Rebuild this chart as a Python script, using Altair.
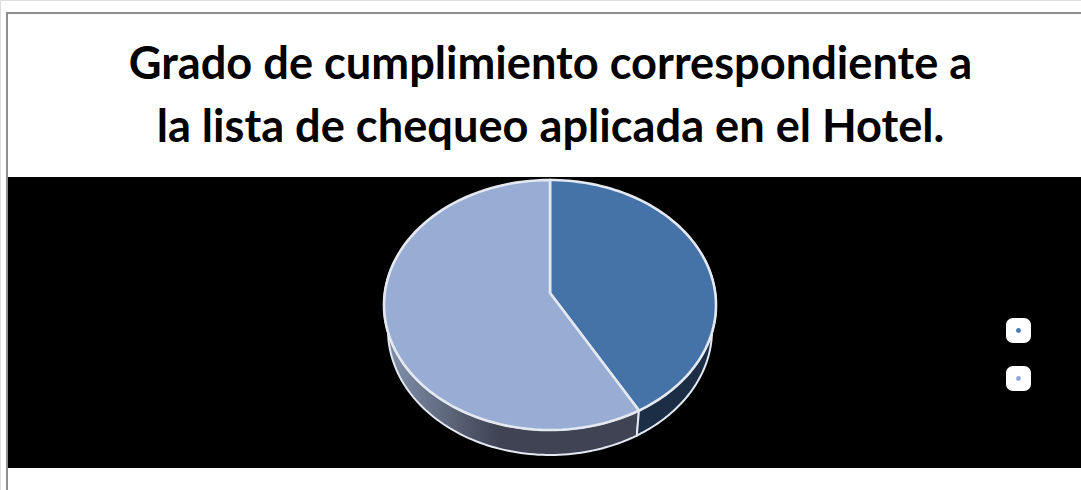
import math
import altair as alt
import pandas as pd

W, H = 1081, 490

# Chart values
slice_values = [41, 59]
top_colors = ["#4572a7", "#98acd4"]
side_dark = "#1b2e45"
legend_colors = ["#4a7ab5", "#8fa8d8"]
title_lines = ["Grado de cumplimiento correspondiente a",
               "la lista de chequeo aplicada en el Hotel."]

# Ellipse geometry of the tilted disc, in pixels
CX, CY, RX, RY = 550, 305, 166, 125
APEX_Y = 0.096          # apex sits above the ellipse centre
BASE_DROP = 0.2         # depth of the extruded edge
BASE_RX = 0.976         # base ellipse is slightly narrower

x_scale = alt.Scale(domain=[-CX / RX, (W - CX) / RX], nice=False, zero=False)
y_scale = alt.Scale(domain=[(CY - H) / RY, CY / RY], nice=False, zero=False)


def arc(a0, a1, sx=1.0, dy=0.0, steps=90):
    """Points on an ellipse between two clockwise angles from 12 o'clock."""
    out = []
    for k in range(steps + 1):
        a = math.radians(a0 + (a1 - a0) * k / steps)
        out.append((sx * math.sin(a), math.cos(a) + dy))
    return out


def polygon(points, **mark):
    df = pd.DataFrame(points, columns=["x", "y"]).assign(i=range(len(points)))
    return alt.Chart(df).mark_line(interpolate="linear-closed", **mark).encode(
        x=alt.X("x:Q", scale=x_scale, axis=None),
        y=alt.Y("y:Q", scale=y_scale, axis=None),
        order="i:Q",
    )


def box(x0, x1, y0, y1, **mark):
    return alt.Chart(alt.Data(values=[{}])).mark_rect(**mark).encode(
        x=alt.value(x0), x2=alt.value(x1), y=alt.value(y0), y2=alt.value(y1)
    )


split = 360 * slice_values[0] / sum(slice_values)
edge = "#e4e9f1"

layers = [
    # frame and dark panel
    box(6, W, 12, 14, color="#8e8e8e"),
    box(6, 8, 12, H, color="#8e8e8e"),
    box(8, W, 177, 468, color="#000000"),
]

# extruded edge of the disc
side_gradient = alt.Gradient(
    gradient="linear", x1=0, y1=0.5, x2=1, y2=0.5,
    stops=[alt.GradientStop(color="#8493ae", offset=0),
           alt.GradientStop(color="#3f4353", offset=0.45),
           alt.GradientStop(color="#3f4353", offset=1)],
)
layers.append(polygon(
    arc(split, 285) + arc(285, split, BASE_RX, -BASE_DROP),
    fill=side_gradient, stroke=edge, strokeWidth=2,
))
layers.append(polygon(
    arc(70, split) + arc(split, 70, BASE_RX, -BASE_DROP),
    fill=side_dark, stroke=edge, strokeWidth=2,
))

# top face slices
start = 0.0
for value, color in zip(slice_values, top_colors):
    end = start + 360 * value / sum(slice_values)
    layers.append(polygon(
        [(0, APEX_Y)] + arc(start, end),
        fill=color, stroke=edge, strokeWidth=2.6,
    ))
    start = end

# legend keys without labels
for row, color in enumerate(legend_colors):
    top = 318 + 48 * row
    layers.append(box(1006, 1031, top, top + 25, color="#ffffff", cornerRadius=7))
    layers.append(
        alt.Chart(alt.Data(values=[{}])).mark_circle(size=24, color=color, opacity=1).encode(
            x=alt.value(1018.5), y=alt.value(top + 12.5)
        )
    )

chart = alt.layer(*layers).properties(
    width=W,
    height=H,
    padding=0,
    autosize=alt.AutoSizeParams(type="none"),
    title=alt.TitleParams(
        text=title_lines,
        font="Lato",
        fontSize=45.2,
        fontWeight="bold",
        color="#000000",
        lineHeight=62.5,
        anchor="middle",
        baseline="alphabetic",
        dy=191,
        dx=10,
    ),
).configure_view(stroke=None).configure(background="#ffffff")

chart.save("out.html", embed_options={"renderer": "svg", "actions": False})
